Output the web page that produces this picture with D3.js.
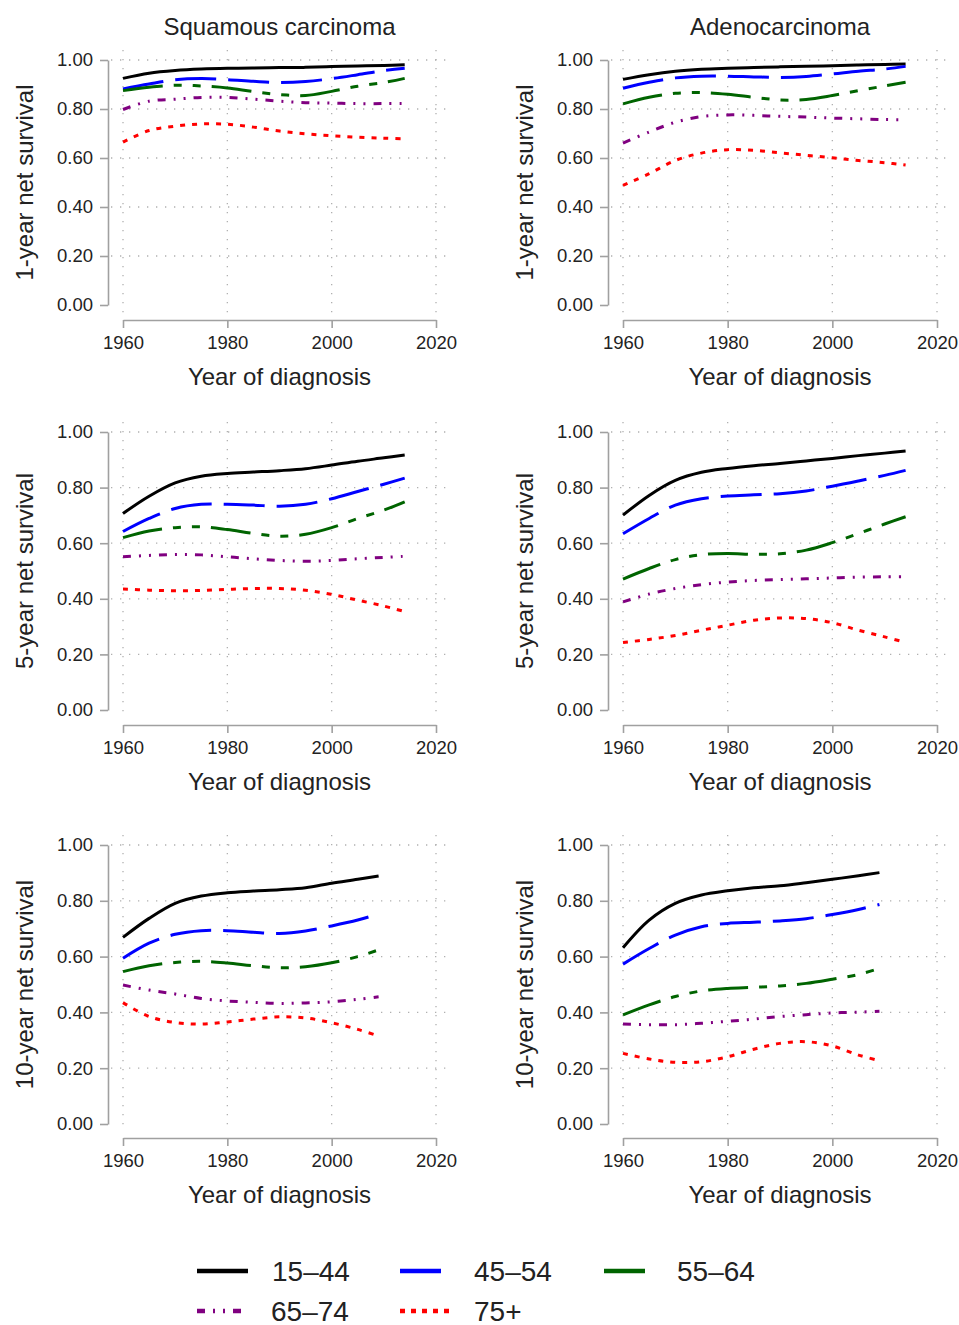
<!DOCTYPE html>
<html>
<head>
<meta charset="utf-8">
<script src="https://cdn.jsdelivr.net/npm/d3@7"></script>
<style>
  body { margin: 0; background: #fff; }
  text { font-family: "Liberation Sans", Arial, sans-serif; fill: #222; }
</style>
</head>
<body>
<script>
// age groups and styles
var groups = ["15\u201344", "45\u201354", "55\u201364", "65\u201374", "75+"];
var colors = ["#000000", "#0000ff", "#006400", "#800080", "#ff0000"];
var dashes = [null, "41,12", "40,11,8,11,8,11", "8,8,2,8,2,8", "5,7"];

var histologies = ["Squamous carcinoma", "Adenocarcinoma"];
var yTitles = ["1-year net survival", "5-year net survival", "10-year net survival"];
var xTicks = [1960, 1980, 2000, 2020];
var yTicks = [0, 0.2, 0.4, 0.6, 0.8, 1.0];

var yearsShort = [1960, 1965, 1970, 1975, 1980, 1985, 1990, 1995, 2000, 2005, 2010, 2014];
var yearsLong = [1960, 1965, 1970, 1975, 1980, 1985, 1990, 1995, 2000, 2005, 2009];

// 1-year, squamous
var sq1 = [
  [0.925, 0.946, 0.957, 0.963, 0.966, 0.967, 0.969, 0.970, 0.973, 0.976, 0.978, 0.981],
  [0.882, 0.902, 0.919, 0.924, 0.920, 0.913, 0.908, 0.912, 0.924, 0.940, 0.957, 0.966],
  [0.875, 0.889, 0.897, 0.894, 0.886, 0.871, 0.859, 0.855, 0.872, 0.893, 0.908, 0.925],
  [0.798, 0.832, 0.840, 0.847, 0.847, 0.840, 0.832, 0.826, 0.824, 0.822, 0.822, 0.822],
  [0.665, 0.712, 0.730, 0.739, 0.738, 0.726, 0.710, 0.699, 0.691, 0.685, 0.681, 0.678]
];
// 1-year, adeno
var ad1 = [
  [0.921, 0.940, 0.954, 0.962, 0.966, 0.969, 0.972, 0.974, 0.977, 0.980, 0.982, 0.984],
  [0.885, 0.909, 0.927, 0.934, 0.934, 0.931, 0.929, 0.933, 0.943, 0.954, 0.963, 0.974],
  [0.821, 0.848, 0.864, 0.867, 0.860, 0.848, 0.837, 0.839, 0.855, 0.875, 0.894, 0.909],
  [0.661, 0.706, 0.746, 0.769, 0.776, 0.774, 0.770, 0.767, 0.763, 0.760, 0.757, 0.756],
  [0.488, 0.536, 0.590, 0.620, 0.634, 0.631, 0.621, 0.611, 0.601, 0.590, 0.581, 0.571]
];
// 5-year, squamous
var sq5 = [
  [0.707, 0.769, 0.817, 0.841, 0.851, 0.856, 0.861, 0.868, 0.881, 0.895, 0.907, 0.917],
  [0.642, 0.689, 0.725, 0.740, 0.740, 0.737, 0.733, 0.740, 0.760, 0.786, 0.812, 0.834],
  [0.620, 0.644, 0.656, 0.659, 0.649, 0.635, 0.625, 0.632, 0.656, 0.689, 0.719, 0.749],
  [0.551, 0.556, 0.559, 0.558, 0.551, 0.544, 0.538, 0.535, 0.538, 0.544, 0.549, 0.553],
  [0.435, 0.431, 0.429, 0.430, 0.434, 0.437, 0.437, 0.431, 0.416, 0.395, 0.374, 0.354]
];
// 5-year, adeno
var ad5 = [
  [0.701, 0.772, 0.826, 0.855, 0.869, 0.879, 0.887, 0.896, 0.905, 0.915, 0.924, 0.932],
  [0.634, 0.689, 0.737, 0.760, 0.770, 0.774, 0.778, 0.788, 0.805, 0.824, 0.844, 0.862],
  [0.471, 0.509, 0.541, 0.559, 0.563, 0.560, 0.562, 0.575, 0.602, 0.635, 0.669, 0.695],
  [0.389, 0.417, 0.437, 0.451, 0.460, 0.466, 0.469, 0.472, 0.475, 0.478, 0.479, 0.479],
  [0.243, 0.254, 0.268, 0.287, 0.305, 0.323, 0.331, 0.329, 0.314, 0.287, 0.263, 0.243]
];
// 10-year, squamous
var sq10 = [
  [0.669, 0.737, 0.791, 0.817, 0.829, 0.835, 0.840, 0.847, 0.863, 0.877, 0.889],
  [0.594, 0.648, 0.680, 0.693, 0.693, 0.687, 0.683, 0.692, 0.710, 0.731, 0.753],
  [0.546, 0.567, 0.579, 0.583, 0.577, 0.567, 0.560, 0.564, 0.578, 0.600, 0.624],
  [0.498, 0.480, 0.466, 0.450, 0.441, 0.436, 0.432, 0.434, 0.438, 0.447, 0.456],
  [0.435, 0.385, 0.364, 0.358, 0.366, 0.376, 0.384, 0.380, 0.363, 0.339, 0.315]
];
// 10-year, adeno
var ad10 = [
  [0.632, 0.731, 0.791, 0.821, 0.836, 0.847, 0.854, 0.865, 0.877, 0.890, 0.901],
  [0.573, 0.629, 0.677, 0.707, 0.719, 0.723, 0.728, 0.736, 0.751, 0.769, 0.787],
  [0.391, 0.427, 0.457, 0.477, 0.486, 0.490, 0.495, 0.504, 0.519, 0.536, 0.558],
  [0.358, 0.356, 0.356, 0.361, 0.368, 0.376, 0.385, 0.392, 0.398, 0.401, 0.404],
  [0.253, 0.233, 0.221, 0.223, 0.241, 0.268, 0.289, 0.295, 0.280, 0.247, 0.227]
];

var panels = [
  [sq1, ad1, yearsShort],
  [sq5, ad5, yearsShort],
  [sq10, ad10, yearsLong]
];

// layout
var rows = [
  {top: 60, bot: 305, axisY: 320},
  {top: 432, bot: 710, axisY: 725},
  {top: 845, bot: 1124, axisY: 1138}
];
var cols = [
  {x0: 123, x1: 436, axisX: 108},
  {x0: 623, x1: 937, axisX: 608}
];

var svg = d3.select("body").append("svg")
  .attr("width", 959)
  .attr("height", 1325);

// column titles
cols.forEach(function(c, ci) {
  svg.append("text")
    .attr("x", (c.x0 + c.x1) / 2)
    .attr("y", 26)
    .attr("text-anchor", "middle")
    .attr("dominant-baseline", "central")
    .style("font-size", "24px")
    .text(histologies[ci]);
});

rows.forEach(function(r, ri) {
  cols.forEach(function(c, ci) {
    var x = d3.scaleLinear().domain([1960, 2020]).range([c.x0, c.x1]);
    var y = d3.scaleLinear().domain([0, 1]).range([r.bot, r.top]);
    var g = svg.append("g");

    // dotted grid
    g.selectAll("line.hgrid")
      .data(yTicks.filter(function(d) { return d > 0; }))
      .enter().append("line")
      .attr("x1", c.x0 - 12).attr("x2", c.x1 + 16)
      .attr("y1", function(d) { return y(d); })
      .attr("y2", function(d) { return y(d); })
      .style("stroke", "#b0b0b0")
      .style("stroke-width", 1.3)
      .style("stroke-dasharray", "1.3,7.7");
    g.selectAll("line.vgrid")
      .data(xTicks)
      .enter().append("line")
      .attr("x1", function(d) { return x(d); })
      .attr("x2", function(d) { return x(d); })
      .attr("y1", r.top - 10).attr("y2", r.bot + 8)
      .style("stroke", "#b0b0b0")
      .style("stroke-width", 1.3)
      .style("stroke-dasharray", "1.3,7.7");

    // y axis
    var ya = g.append("g")
      .attr("transform", "translate(" + c.axisX + ",0)")
      .call(d3.axisLeft(y).tickValues(yTicks).tickSize(8).tickSizeOuter(0).tickPadding(7)
        .tickFormat(d3.format(".2f")));
    // x axis
    var xa = g.append("g")
      .attr("transform", "translate(0," + r.axisY + ")")
      .call(d3.axisBottom(x).tickValues(xTicks).tickSize(8).tickSizeOuter(0).tickPadding(8)
        .tickFormat(d3.format("d")));
    [ya, xa].forEach(function(a) {
      a.select(".domain").style("stroke", "#a0a0a0").style("stroke-width", 1.6);
      a.selectAll(".tick line").style("stroke", "#a0a0a0").style("stroke-width", 1.6);
      a.selectAll(".tick text").style("font-size", "18.5px")
        .style("font-family", "'Liberation Sans', Arial, sans-serif").style("fill", "#222");
    });

    // axis titles
    g.append("text")
      .attr("x", (c.x0 + c.x1) / 2)
      .attr("y", r.axisY + 56)
      .attr("text-anchor", "middle")
      .attr("dominant-baseline", "central")
      .style("font-size", "24px")
      .text("Year of diagnosis");
    g.append("text")
      .attr("transform", "translate(" + (c.axisX - 84) + "," + ((r.top + r.bot) / 2) + ") rotate(-90)")
      .attr("text-anchor", "middle")
      .attr("dominant-baseline", "central")
      .style("font-size", "24px")
      .text(yTitles[ri]);

    // lines
    var series = panels[ri][ci];
    var years = panels[ri][2];
    var line = d3.line()
      .x(function(d, i) { return x(years[i]); })
      .y(function(d) { return y(d); })
      .curve(d3.curveCatmullRom.alpha(0.5));
    series.forEach(function(vals, k) {
      g.append("path")
        .attr("d", line(vals))
        .style("fill", "none")
        .style("stroke", colors[k])
        .style("stroke-width", 3)
        .style("stroke-dasharray", dashes[k]);
    });
  });
});

// legend
var legendPos = [
  {x: 197, y: 1271, w: 51}, {x: 400, y: 1271, w: 41}, {x: 604, y: 1271, w: 41},
  {x: 197, y: 1311, w: 44}, {x: 400, y: 1311, w: 52}
];
var labelX = [272, 474, 677, 271, 474];
var leg = svg.append("g");
groups.forEach(function(name, k) {
  var p = legendPos[k];
  leg.append("line")
    .attr("x1", p.x).attr("x2", p.x + p.w)
    .attr("y1", p.y).attr("y2", p.y)
    .style("stroke", colors[k])
    .style("stroke-width", 4.5)
    .style("stroke-dasharray", k === 3 ? "8,8,2,8,2,8" : (k === 4 ? "5,6" : null));
  leg.append("text")
    .attr("x", labelX[k])
    .attr("y", p.y)
    .attr("dominant-baseline", "central")
    .style("font-size", "28px")
    .text(name);
});
</script>
</body>
</html>
